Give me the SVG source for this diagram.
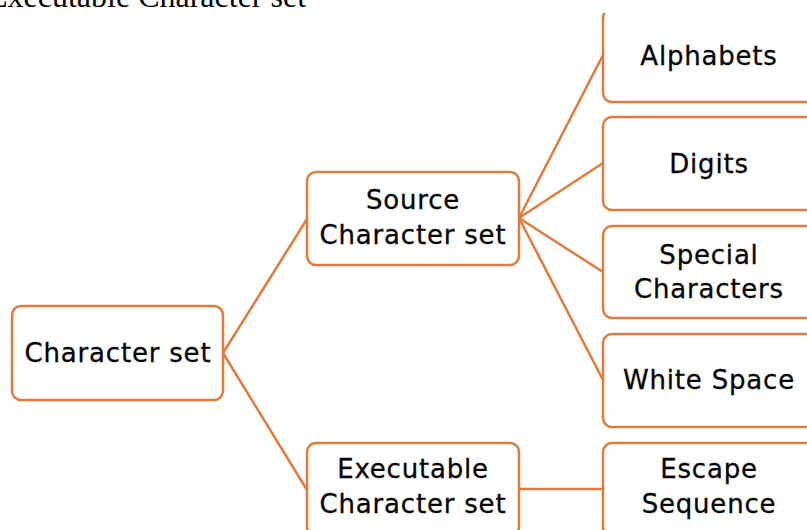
<svg xmlns="http://www.w3.org/2000/svg" width="807" height="530" viewBox="0 0 807 530">
  <defs>
    <clipPath id="chartArea">
      <rect x="0" y="13" width="807" height="517"/>
    </clipPath>
    <style>
      .box { fill: #ffffff; stroke: #E07B3C; stroke-width: 2.5; }
      .link { stroke: #E07B3C; stroke-width: 2.5; fill: none; stroke-linecap: round; }
      .label { font-family: "DejaVu Sans", "Open Sans", sans-serif; font-size: 26px; fill: #050505; stroke: #050505; stroke-width: 0.3; text-anchor: middle; letter-spacing: 0.8px; }
      .title { font-family: "Liberation Serif", "Times New Roman", serif; font-size: 32px; fill: #000000; }
    </style>
  </defs>
  <rect width="807" height="530" fill="#ffffff"/>

  <!-- caption line above the chart -->
  <text class="title" x="-12" y="7">Executable Character set</text>

  <g clip-path="url(#chartArea)">
    <g id="connectors">
      <line class="link" x1="223" y1="353" x2="307" y2="219"/>
      <line class="link" x1="223" y1="353" x2="307" y2="490"/>
      <line class="link" x1="519" y1="218" x2="603" y2="55"/>
      <line class="link" x1="519" y1="218" x2="603" y2="163"/>
      <line class="link" x1="519" y1="218" x2="603" y2="272"/>
      <line class="link" x1="519" y1="218" x2="603" y2="380"/>
      <line class="link" x1="519" y1="489" x2="603" y2="489"/>
    </g>

    <g id="character-set">
      <rect class="box" x="12" y="306" width="211" height="94" rx="9"/>
      <text class="label" x="118" y="362">Character set</text>
    </g>

    <g id="source-character-set">
      <rect class="box" x="307" y="172" width="212" height="93" rx="9"/>
      <text class="label" x="413" y="209">Source</text>
      <text class="label" x="413" y="244">Character set</text>
    </g>

    <g id="executable-character-set">
      <rect class="box" x="307" y="443" width="212" height="93" rx="9"/>
      <text class="label" x="413" y="478">Executable</text>
      <text class="label" x="413" y="513">Character set</text>
    </g>

    <g id="alphabets">
      <rect class="box" x="603" y="9" width="212" height="93" rx="9"/>
      <text class="label" x="709" y="65">Alphabets</text>
    </g>

    <g id="digits">
      <rect class="box" x="603" y="117" width="212" height="93" rx="9"/>
      <text class="label" x="709" y="173">Digits</text>
    </g>

    <g id="special-characters">
      <rect class="box" x="603" y="226" width="212" height="92" rx="9"/>
      <text class="label" x="709" y="264">Special</text>
      <text class="label" x="709" y="298">Characters</text>
    </g>

    <g id="white-space">
      <rect class="box" x="603" y="334" width="212" height="93" rx="9"/>
      <text class="label" x="709" y="389">White Space</text>
    </g>

    <g id="escape-sequence">
      <rect class="box" x="603" y="443" width="212" height="93" rx="9"/>
      <text class="label" x="709" y="478">Escape</text>
      <text class="label" x="709" y="513">Sequence</text>
    </g>
  </g>
</svg>
